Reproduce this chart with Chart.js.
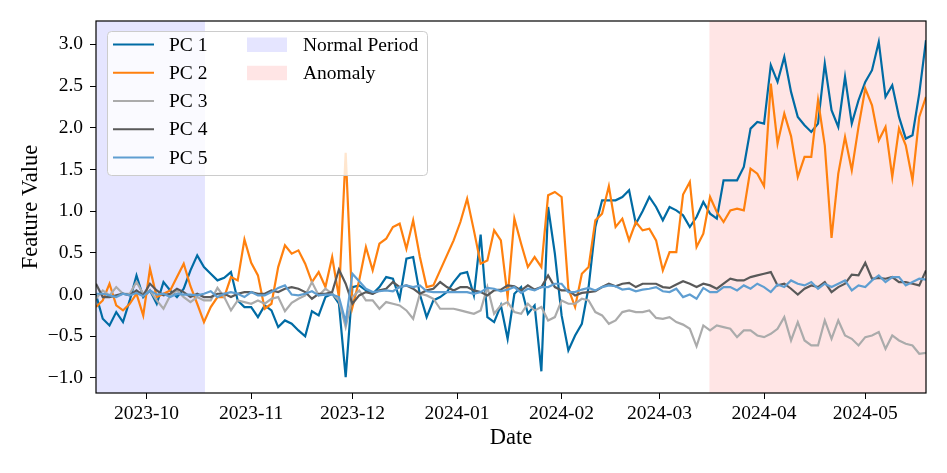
<!DOCTYPE html>
<html>
<head>
<meta charset="utf-8">
<title>PC features</title>
<script src="https://cdn.jsdelivr.net/npm/chart.js@4.4.1/dist/chart.umd.min.js"></script>
<style>
  html, body { margin: 0; padding: 0; background: #fff; }
  #wrap { width: 947px; height: 473px; }
</style>
</head>
<body>
<div id="wrap"><canvas id="pcChart" width="947" height="473"></canvas></div>
<script>
// x = days since 2023-09-16, sampled every second day
const days = [];
for (let d = 0; d <= 246; d += 2) days.push(d);

const pc1 = [
  0.0, -0.29, -0.37, -0.21, -0.33, -0.07, 0.23, -0.03, 0.05, -0.11,
  0.15, 0.05, -0.03, 0.07, 0.29, 0.47, 0.33, 0.25, 0.17, 0.2,
  0.27, -0.07, -0.15, -0.15, -0.27, -0.13, -0.19, -0.39, -0.31, -0.35,
  -0.43, -0.5, -0.2, -0.25, -0.03, 0.01, -0.11, -0.99, 0.09, 0.11,
  0.05, 0.01, 0.09, 0.21, 0.19, -0.05, 0.43, 0.45, 0.0, -0.27,
  -0.07, -0.03, 0.03, 0.15, 0.25, 0.27, -0.01, 0.72, -0.27, -0.33,
  -0.13, -0.53, 0.01, 0.09, -0.23, -0.13, -0.92, 1.05, 0.49, -0.25,
  -0.67, -0.49, -0.35, 0.09, 0.81, 1.13, 1.13, 1.13, 1.17, 1.25,
  0.85, 1.0, 1.17, 1.05, 0.89, 1.05, 1.01, 0.95, 0.81, 0.93,
  1.11, 0.97, 0.91, 1.37, 1.37, 1.37, 1.53, 1.99, 2.07, 2.05,
  2.75, 2.55, 2.85, 2.43, 2.13, 2.03, 1.95, 2.05, 2.77, 2.21,
  2.01, 2.61, 2.05, 2.33, 2.55, 2.69, 3.03, 2.37, 2.51, 2.13,
  1.87, 1.91, 2.41, 3.05
];
const pc2 = [
  -0.15, -0.07, 0.13, -0.13, -0.19, -0.11, 0.01, -0.25, 0.31, -0.03,
  0.01, 0.05, 0.21, 0.37, 0.1, -0.11, -0.33, -0.15, -0.03, -0.03,
  0.21, 0.17, 0.66, 0.38, 0.23, -0.17, -0.11, 0.33, 0.59, 0.49,
  0.53, 0.37, 0.15, 0.27, 0.09, 0.45, -0.03, 1.7, -0.15, 0.17,
  0.57, 0.29, 0.61, 0.67, 0.81, 0.85, 0.55, 0.89, 0.45, 0.09,
  0.11, 0.29, 0.47, 0.65, 0.87, 1.15, 0.77, 0.37, 0.41, 0.77,
  0.65, -0.03, 0.91, 0.61, 0.33, 0.45, 0.33, 1.19, 1.23, 1.17,
  0.07, -0.15, 0.25, 0.33, 0.89, 0.97, 1.3, 0.81, 0.91, 0.65,
  0.87, 0.77, 0.79, 0.65, 0.29, 0.51, 0.51, 1.2, 1.35, 0.57,
  0.73, 1.17, 0.99, 0.87, 1.01, 1.03, 1.01, 1.51, 1.45, 1.3,
  2.53, 1.81, 2.17, 1.9, 1.41, 1.65, 1.65, 2.33, 1.79, 0.68,
  1.45, 1.89, 1.49, 2.01, 2.47, 2.27, 1.85, 2.01, 1.41, 1.99,
  1.79, 1.37, 2.13, 2.37
];
const pc3 = [
  -0.05, 0.05, -0.01, 0.09, 0.01, 0.01, 0.15, 0.01, 0.05, -0.07,
  -0.17, -0.01, 0.05, -0.03, -0.09, -0.03, -0.07, -0.07, 0.08, -0.03,
  -0.19, -0.07, -0.09, -0.11, -0.07, -0.11, -0.05, -0.03, -0.2, -0.1,
  -0.05, -0.01, 0.15, -0.01, 0.07, 0.01, -0.07, -0.39, -0.03, 0.05,
  -0.07, -0.07, -0.17, -0.09, -0.11, -0.13, -0.19, -0.29, 0.01, -0.01,
  -0.05, -0.17, -0.17, -0.17, -0.19, -0.21, -0.23, -0.19, 0.09, -0.23,
  -0.13, -0.09, -0.21, -0.23, -0.11, -0.19, -0.15, -0.31, -0.27, -0.07,
  -0.11, -0.11, -0.05, -0.07, -0.21, -0.25, -0.35, -0.31, -0.21, -0.19,
  -0.21, -0.21, -0.19, -0.28, -0.29, -0.27, -0.33, -0.36, -0.41, -0.62,
  -0.37, -0.43, -0.37, -0.39, -0.41, -0.51, -0.43, -0.43, -0.49, -0.51,
  -0.47, -0.41, -0.27, -0.55, -0.33, -0.55, -0.61, -0.61, -0.31, -0.53,
  -0.31, -0.49, -0.53, -0.61, -0.51, -0.49, -0.45, -0.65, -0.49, -0.55,
  -0.59, -0.61, -0.71, -0.7
];
const pc4 = [
  0.13, -0.03, -0.03, -0.01, 0.01, -0.01, 0.05, -0.01, 0.13, 0.05,
  -0.01, 0.01, 0.07, 0.03, -0.03, 0.01, -0.03, -0.03, 0.01, 0.01,
  -0.03, 0.01, 0.03, 0.03, 0.01, 0.01, 0.05, 0.03, 0.07, 0.09,
  0.07, 0.03, -0.05, 0.01, 0.01, 0.03, 0.3, 0.13, -0.11, -0.01,
  0.03, 0.01, 0.05, 0.07, 0.15, 0.09, 0.11, 0.07, 0.01, 0.05,
  0.07, 0.15, 0.09, 0.05, 0.09, 0.09, 0.05, 0.03, -0.01, 0.05,
  0.06, 0.11, 0.1, 0.05, 0.11, 0.06, 0.09, 0.23, 0.09, 0.05,
  0.05, -0.01, 0.02, 0.03, 0.04, 0.09, 0.13, 0.1, 0.13, 0.14,
  0.09, 0.13, 0.13, 0.13, 0.09, 0.08, 0.12, 0.16, 0.13, 0.09,
  0.13, 0.11, 0.07, 0.13, 0.19, 0.17, 0.17, 0.21, 0.23, 0.25,
  0.27, 0.11, 0.13, 0.07, 0.0, 0.07, 0.11, 0.09, 0.15, 0.03,
  0.09, 0.13, 0.24, 0.23, 0.38, 0.19, 0.2, 0.19, 0.21, 0.15,
  0.15, 0.13, 0.11, 0.29
];
const pc5 = [
  0.01, 0.01, -0.01, -0.03, 0.01, -0.01, 0.02, -0.02, 0.05, 0.0,
  0.01, -0.03, 0.01, 0.0, 0.0, -0.01, 0.01, 0.04, -0.03, 0.01,
  0.03, 0.01, -0.03, 0.03, -0.01, -0.01, 0.03, 0.08, 0.11, 0.0,
  -0.01, 0.01, 0.04, -0.01, 0.0, 0.0, -0.03, -0.33, 0.25, 0.16,
  0.07, 0.03, 0.04, 0.05, 0.04, 0.09, 0.11, 0.09, 0.11, 0.04,
  0.03, 0.03, 0.03, 0.03, 0.03, 0.03, 0.01, 0.03, 0.08, 0.07,
  0.04, 0.06, 0.09, 0.02, 0.07, 0.05, 0.09, 0.09, 0.13, 0.13,
  0.03, 0.03, 0.06, 0.08, 0.05, 0.09, 0.11, 0.1, 0.06, 0.07,
  0.04, 0.06, 0.07, 0.09, 0.04, 0.03, 0.07, -0.03, 0.0, -0.05,
  0.08, 0.03, 0.03, 0.09, 0.09, 0.05, 0.11, 0.07, 0.13, 0.09,
  0.03, 0.12, 0.09, 0.17, 0.13, 0.11, 0.15, 0.07, 0.13, 0.09,
  0.13, 0.17, 0.05, 0.11, 0.09, 0.17, 0.23, 0.15, 0.21, 0.21,
  0.11, 0.15, 0.19, 0.18
];

const seriesNames = ['PC 1', 'PC 2', 'PC 3', 'PC 4', 'PC 5'];
const seriesColors = ['#006BA4', '#FF800E', '#ABABAB', '#595959', '#5F9ED1'];

const monthDays = [15, 46, 76, 107, 138, 167, 198, 228];
const monthLabels = ['2023-10', '2023-11', '2023-12', '2024-01', '2024-02', '2024-03', '2024-04', '2024-05'];
const yTicks = [-1, -0.5, 0, 0.5, 1, 1.5, 2, 2.5, 3];

const normalPeriod = [0, 32.3];
const anomalyPeriod = [181.8, 246];
const periodNames = ['Normal Period', 'Anomaly'];
const periodColors = ['rgba(0, 0, 255, 0.1)', 'rgba(255, 0, 0, 0.1)'];

const serif = "'Liberation Serif', 'Times New Roman', serif";
Chart.defaults.font.family = serif;
Chart.defaults.color = '#000';

function toPoints(values){
  return values.map((v, i) => ({x: days[i], y: v}));
}

const allSeries = [pc1, pc2, pc3, pc4, pc5];
const datasets = allSeries.map((vals, i) => ({
  label: seriesNames[i],
  data: toPoints(vals),
  borderColor: seriesColors[i],
  backgroundColor: seriesColors[i],
  borderWidth: 2.2,
  pointRadius: 0,
  tension: 0,
  order: allSeries.length - 1 - i
}));

// shaded periods behind the lines
const periodShade = {
  id: 'periodShade',
  beforeDatasetsDraw(chart){
    const {ctx, chartArea, scales} = chart;
    ctx.save();
    [normalPeriod, anomalyPeriod].forEach((p, i) => {
      const x1 = scales.x.getPixelForValue(p[0]);
      const x2 = scales.x.getPixelForValue(p[1]);
      ctx.fillStyle = periodColors[i];
      ctx.fillRect(x1, chartArea.top, x2 - x1, chartArea.bottom - chartArea.top);
    });
    ctx.restore();
  }
};

// box on all four sides
const frame = {
  id: 'frame',
  afterDatasetsDraw(chart){
    const {ctx, chartArea} = chart;
    ctx.save();
    ctx.strokeStyle = '#000';
    ctx.lineWidth = 1.2;
    ctx.strokeRect(chartArea.left, chartArea.top, chartArea.right - chartArea.left, chartArea.bottom - chartArea.top);
    ctx.restore();
  }
};

// two-column legend, matplotlib style
const pcLegend = {
  id: 'pcLegend',
  afterDraw(chart){
    const ctx = chart.ctx;
    ctx.save();
    ctx.beginPath();
    ctx.roundRect(107.5, 31.5, 320, 144, 4);
    ctx.fillStyle = 'rgba(255, 255, 255, 0.8)';
    ctx.fill();
    ctx.strokeStyle = '#cccccc';
    ctx.lineWidth = 1;
    ctx.stroke();

    ctx.font = '19.5px ' + serif;
    ctx.textBaseline = 'middle';
    ctx.textAlign = 'left';
    chart.data.datasets.forEach((ds, i) => {
      const y = 44.5 + i * 28.25;
      ctx.strokeStyle = ds.borderColor;
      ctx.lineWidth = 2.2;
      ctx.beginPath();
      ctx.moveTo(113, y);
      ctx.lineTo(154, y);
      ctx.stroke();
      ctx.fillStyle = '#000';
      ctx.fillText(ds.label, 169, y + 1);
    });
    periodNames.forEach((name, i) => {
      const y = 44.5 + i * 28.25;
      ctx.fillStyle = periodColors[i];
      ctx.fillRect(247, y - 7, 40, 14.5);
      ctx.fillStyle = '#000';
      ctx.fillText(name, 303, y + 1);
    });
    ctx.restore();
  }
};

const config = {
  type: 'line',
  data: { datasets: datasets },
  options: {
    responsive: false,
    animation: false,
    layout: { padding: { left: 0, top: 21, right: 21, bottom: 0 } },
    plugins: {
      legend: { display: false },
      tooltip: { enabled: false }
    },
    scales: {
      x: {
        type: 'linear',
        min: 0,
        max: 246,
        afterFit(scale){ scale.height = 80; },
        afterBuildTicks(scale){ scale.ticks = monthDays.map(v => ({value: v})); },
        ticks: {
          autoSkip: false,
          maxRotation: 0,
          padding: 3,
          font: { size: 19.5 },
          callback(value){
            const k = monthDays.indexOf(value);
            return k >= 0 ? monthLabels[k] : '';
          }
        },
        grid: { drawOnChartArea: false, drawTicks: true, tickLength: 6, color: '#000', lineWidth: 1 },
        border: { display: false },
        title: { display: true, text: 'Date', font: { size: 22.5 }, padding: { top: 0, bottom: 21 } }
      },
      y: {
        min: -1.18,
        max: 3.28,
        afterFit(scale){ scale.width = 96; },
        afterBuildTicks(scale){ scale.ticks = yTicks.map(v => ({value: v})); },
        ticks: {
          padding: 7,
          font: { size: 19.5 },
          callback(value){
            const s = Math.abs(value).toFixed(1);
            return value < 0 ? '\u2212' + s : s;
          }
        },
        grid: { drawOnChartArea: false, drawTicks: true, tickLength: 6, color: '#000', lineWidth: 1 },
        border: { display: false },
        title: { display: true, text: 'Feature Value', font: { size: 22.5 }, padding: { top: 18, bottom: 0 } }
      }
    }
  },
  plugins: [periodShade, frame, pcLegend]
};

const pcChart = new Chart(document.getElementById('pcChart'), config);
</script>
</body>
</html>
